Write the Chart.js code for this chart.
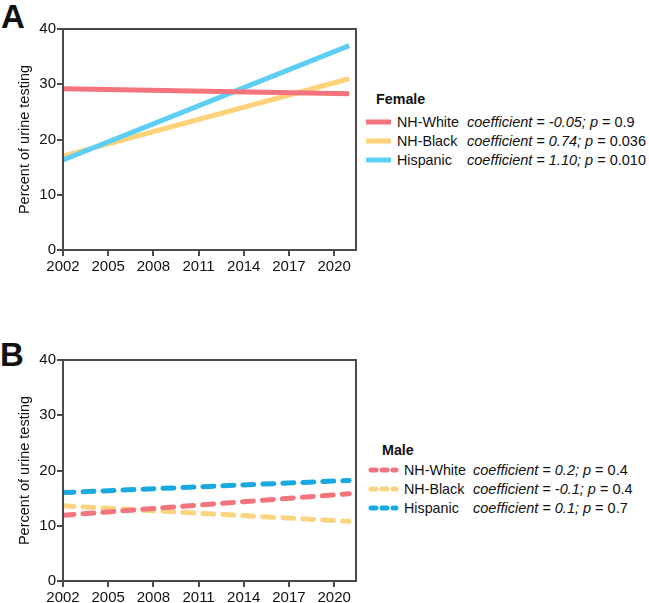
<!DOCTYPE html>
<html>
<head>
<meta charset="utf-8">
<script src="https://cdn.jsdelivr.net/npm/chart.js@4.4.0/dist/chart.umd.min.js"></script>
<style>
  body { margin: 0; background: #fff; font-family: "Liberation Sans", Arial, sans-serif; color: #111; }
  #page { position: relative; width: 649px; height: 603px; overflow: hidden; }
  .panel { position: absolute; font-weight: bold; font-size: 33px; line-height: 33px; }
  .wrap { position: absolute; left: 0; width: 358px; height: 280px; }
  .legend { position: absolute; left: 0; top: 0; font-size: 14.3px; }
  .legend .title { position: absolute; font-weight: bold; white-space: nowrap; height: 18px; line-height: 18px; }
  .legend .row { position: absolute; left: 0; white-space: nowrap; height: 18px; line-height: 18px; }
  .legend svg { position: absolute; top: 0; }
  .legend .lbl, .legend .coef { position: absolute; top: 0; }
  .legend .coef { font-size: 14.5px; }
  .legend i { font-style: italic; }
</style>
</head>
<body>
<div id="page">
  <div class="panel" style="left:1px; top:0px;">A</div>
  <div class="panel" style="left:0px; top:338px;">B</div>
  <div class="wrap" style="top:0px;"><canvas id="chartFemale"></canvas></div>
  <div class="wrap" style="top:331px;"><canvas id="chartMale"></canvas></div>
  <div class="legend" id="legendFemale"></div>
  <div class="legend" id="legendMale"></div>
</div>
<script>
// === DADOS ===
const years = [2002, 2021];
const xTicks = [2002, 2005, 2008, 2011, 2014, 2017, 2020];
const yTicks = [0, 10, 20, 30, 40];
const groups = ["NH-White", "NH-Black", "Hispanic"];

const femaleWhite = [29.2, 28.3];
const femaleBlack = [17.0, 31.0];
const femaleHispanic = [16.3, 37.0];
const femaleCoef = ["-0.05", "0.74", "1.10"];
const femaleP = ["0.9", "0.036", "0.010"];

const maleWhite = [11.9, 15.8];
const maleBlack = [13.6, 10.8];
const maleHispanic = [16.0, 18.2];
const maleCoef = ["0.2", "-0.1", "0.1"];
const maleP = ["0.4", "0.4", "0.7"];

const femaleColors = ["#f5737c", "#fdd27a", "#5dcff5"];
const maleColors = ["#f2757d", "#fbd47f", "#19a9e1"];
const axisColor = "#4a4a4a";

// caixa em volta da área do gráfico
const boxPlugin = {
  id: "box",
  afterDatasetsDraw(chart) {
    const { ctx, chartArea: a } = chart;
    ctx.save();
    ctx.strokeStyle = axisColor;
    ctx.lineWidth = 2;
    ctx.strokeRect(a.left, a.top, a.right - a.left, a.bottom - a.top);
    ctx.restore();
  }
};

function makeChart(id, series, colors, dashed) {
  const orders = [0, 2, 1];
  return new Chart(document.getElementById(id), {
    type: "line",
    data: {
      datasets: series.map((s, i) => ({
        label: groups[i],
        data: years.map((y, k) => ({ x: y, y: s[k] })),
        borderColor: colors[i],
        borderWidth: 5,
        borderDash: dashed ? [11, 9] : [],
        borderCapStyle: dashed ? "round" : "butt",
        pointRadius: 0,
        tension: 0,
        order: orders[i]
      }))
    },
    options: {
      responsive: true,
      maintainAspectRatio: false,
      animation: false,
      layout: { padding: { top: 29, right: 2, left: 0, bottom: 0 } },
      plugins: { legend: { display: false }, tooltip: { enabled: false } },
      scales: {
        x: {
          type: "linear",
          min: 2002,
          max: 2021.45,
          afterBuildTicks: s => { s.ticks = xTicks.map(v => ({ value: v })); },
          afterFit: s => { s.height = 30; },
          ticks: { callback: v => String(v), color: "#111", font: { family: "Liberation Sans", size: 15 }, padding: 2, maxRotation: 0, autoSkip: false },
          grid: { drawOnChartArea: false, color: axisColor, lineWidth: 2, tickLength: 6 },
          border: { color: axisColor, width: 2 }
        },
        y: {
          min: 0,
          max: 40,
          afterBuildTicks: s => { s.ticks = yTicks.map(v => ({ value: v })); },
          afterFit: s => { s.width = 63; },
          ticks: { color: "#111", font: { family: "Liberation Sans", size: 15 }, padding: 1 },
          grid: { drawOnChartArea: false, color: axisColor, lineWidth: 2, tickLength: 6 },
          border: { color: axisColor, width: 2 },
          title: { display: true, text: "Percent of urine testing", color: "#111", font: { family: "Liberation Sans", size: 14.5 }, padding: { top: 16, bottom: 0 } }
        }
      }
    },
    plugins: [boxPlugin]
  });
}

makeChart("chartFemale", [femaleWhite, femaleBlack, femaleHispanic], femaleColors, false);
makeChart("chartMale", [maleWhite, maleBlack, maleHispanic], maleColors, true);

// === LEGENDA ===
function buildLegend(id, title, coefs, ps, colors, dashed, pos) {
  const el = document.getElementById(id);
  let html = `<div class="title" style="left:${pos.titleX}px; top:${pos.titleY - 9}px;">${title}</div>`;
  groups.forEach((g, i) => {
    const y = pos.rowY[i] - 9;
    const line = dashed
      ? `<line x1="3" y1="9" x2="${pos.sampleW - 3}" y2="9" stroke="${colors[i]}" stroke-width="5" stroke-linecap="round" stroke-dasharray="5 6"/>`
      : `<line x1="0" y1="9" x2="${pos.sampleW}" y2="9" stroke="${colors[i]}" stroke-width="5"/>`;
    html += `<div class="row" style="top:${y}px;">
      <svg width="${pos.sampleW}" height="18" style="left:${pos.sampleX}px;">${line}</svg>
      <span class="lbl" style="left:${pos.labelX}px;">${g}</span>
      <span class="coef" style="left:${pos.coefX}px;"><i>coefficient = ${coefs[i]}; p</i> = ${ps[i]}</span>
    </div>`;
  });
  el.innerHTML = html;
}

buildLegend("legendFemale", "Female", femaleCoef, femaleP, femaleColors, false,
  { titleX: 376, titleY: 99, rowY: [122, 141, 160], sampleX: 366, sampleW: 25, labelX: 397, coefX: 467 });
buildLegend("legendMale", "Male", maleCoef, maleP, maleColors, true,
  { titleX: 382, titleY: 450, rowY: [470, 489, 508], sampleX: 368, sampleW: 31, labelX: 404, coefX: 473 });
</script>
</body>
</html>
